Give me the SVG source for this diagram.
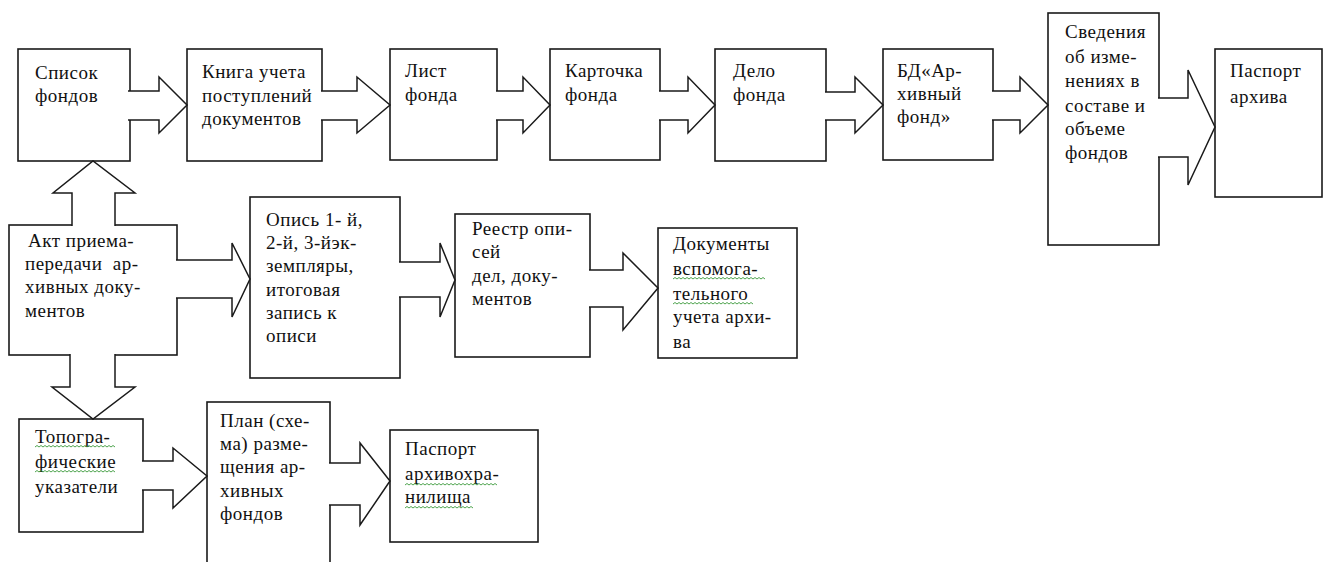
<svg xmlns="http://www.w3.org/2000/svg" width="1324" height="562" viewBox="0 0 1324 562">
<style>
.b{fill:#fff;stroke:#1a1a1a;stroke-width:1.6}
.a{fill:#fff;stroke:#1a1a1a;stroke-width:1.5;stroke-linejoin:miter}
.t{font-family:"Liberation Serif","Times New Roman",serif;font-size:19px;fill:#111;letter-spacing:0.5px}
.sq{fill:none;stroke:#3a9a3a;stroke-width:0.9}
</style>
<rect width="1324" height="562" fill="#fff"/>
<g id="n1"><rect class="b" x="18" y="49" width="112" height="112"/><text class="t"><tspan x="35" y="79">Список</tspan><tspan x="35" y="102">фондов</tspan></text></g>
<g id="n2"><rect class="b" x="187" y="49" width="135" height="112"/><text class="t"><tspan x="202" y="78">Книга учета</tspan><tspan x="202" y="102">поступлений</tspan><tspan x="202" y="125">документов</tspan></text></g>
<g id="n3"><rect class="b" x="390" y="49" width="107" height="111"/><text class="t"><tspan x="405" y="77">Лист</tspan><tspan x="405" y="101">фонда</tspan></text></g>
<g id="n4"><rect class="b" x="550" y="49" width="110" height="111"/><text class="t"><tspan x="565" y="77">Карточка</tspan><tspan x="565" y="101">фонда</tspan></text></g>
<g id="n5"><rect class="b" x="715" y="49" width="111" height="112"/><text class="t"><tspan x="733" y="77">Дело</tspan><tspan x="733" y="101">фонда</tspan></text></g>
<g id="n6"><rect class="b" x="883" y="49" width="110" height="111"/><text class="t"><tspan x="897" y="77">БД«Ар-</tspan><tspan x="897" y="100">хивный</tspan><tspan x="897" y="123">фонд»</tspan></text></g>
<g id="n7"><rect class="b" x="1048" y="13" width="111" height="232"/><text class="t"><tspan x="1065" y="38">Сведения</tspan><tspan x="1065" y="63">об изме-</tspan><tspan x="1065" y="87">нениях в</tspan><tspan x="1065" y="112">составе и</tspan><tspan x="1065" y="135">объеме</tspan><tspan x="1065" y="159">фондов</tspan></text></g>
<g id="n8"><rect class="b" x="1215" y="49" width="107" height="148"/><text class="t"><tspan x="1230" y="77">Паспорт</tspan><tspan x="1230" y="103">архива</tspan></text></g>
<g id="n9"><rect class="b" x="9" y="225" width="168" height="130"/><text class="t"><tspan x="28" y="247">Акт приема-</tspan><tspan x="25" y="270" xml:space="preserve">передачи  ар-</tspan><tspan x="25" y="293">хивных доку-</tspan><tspan x="25" y="317">ментов</tspan></text></g>
<g id="n10"><rect class="b" x="250" y="197" width="150" height="181"/><text class="t"><tspan x="266" y="226">Опись 1- й,</tspan><tspan x="266" y="249">2-й, 3-йэк-</tspan><tspan x="266" y="272">земпляры,</tspan><tspan x="266" y="296">итоговая</tspan><tspan x="266" y="319">запись к</tspan><tspan x="266" y="342">описи</tspan></text></g>
<g id="n11"><rect class="b" x="455" y="214" width="135" height="143"/><text class="t"><tspan x="472" y="235">Реестр опи-</tspan><tspan x="472" y="258">сей</tspan><tspan x="472" y="282">дел, доку-</tspan><tspan x="472" y="305">ментов</tspan></text></g>
<g id="n12"><rect class="b" x="658" y="228" width="139" height="130"/><text class="t"><tspan x="673" y="250">Документы</tspan><tspan x="673" y="275">вспомога-</tspan><tspan x="673" y="300">тельного</tspan><tspan x="673" y="323">учета архи-</tspan><tspan x="673" y="348">ва</tspan></text>
<path class="sq" d="M673,279 l2,-1.5 2,1.5 2,-1.5 2,1.5 2,-1.5 2,1.5 2,-1.5 2,1.5 2,-1.5 2,1.5 2,-1.5 2,1.5 2,-1.5 2,1.5 2,-1.5 2,1.5 2,-1.5 2,1.5 2,-1.5 2,1.5 2,-1.5 2,1.5 2,-1.5 2,1.5 2,-1.5 2,1.5 2,-1.5 2,1.5 2,-1.5 2,1.5 2,-1.5 2,1.5 2,-1.5 2,1.5 2,-1.5 2,1.5 2,-1.5 2,1.5 2,-1.5 2,1.5 2,-1.5 2,1.5 2,-1.5 2,1.5 2,-1.5 2,1.5"/>
<path class="sq" d="M673,304 l2,-1.5 2,1.5 2,-1.5 2,1.5 2,-1.5 2,1.5 2,-1.5 2,1.5 2,-1.5 2,1.5 2,-1.5 2,1.5 2,-1.5 2,1.5 2,-1.5 2,1.5 2,-1.5 2,1.5 2,-1.5 2,1.5 2,-1.5 2,1.5 2,-1.5 2,1.5 2,-1.5 2,1.5 2,-1.5 2,1.5 2,-1.5 2,1.5 2,-1.5 2,1.5 2,-1.5 2,1.5 2,-1.5 2,1.5 2,-1.5 2,1.5 2,-1.5 2,1.5"/></g>
<g id="n13"><rect class="b" x="19" y="419" width="124" height="113"/><text class="t"><tspan x="35" y="443">Топогра-</tspan><tspan x="35" y="468">фические</tspan><tspan x="35" y="493">указатели</tspan></text>
<path class="sq" d="M35,447 l2,-1.5 2,1.5 2,-1.5 2,1.5 2,-1.5 2,1.5 2,-1.5 2,1.5 2,-1.5 2,1.5 2,-1.5 2,1.5 2,-1.5 2,1.5 2,-1.5 2,1.5 2,-1.5 2,1.5 2,-1.5 2,1.5 2,-1.5 2,1.5 2,-1.5 2,1.5 2,-1.5 2,1.5 2,-1.5 2,1.5 2,-1.5 2,1.5 2,-1.5 2,1.5 2,-1.5 2,1.5 2,-1.5 2,1.5 2,-1.5 2,1.5 2,-1.5 2,1.5"/>
<path class="sq" d="M35,472 l2,-1.5 2,1.5 2,-1.5 2,1.5 2,-1.5 2,1.5 2,-1.5 2,1.5 2,-1.5 2,1.5 2,-1.5 2,1.5 2,-1.5 2,1.5 2,-1.5 2,1.5 2,-1.5 2,1.5 2,-1.5 2,1.5 2,-1.5 2,1.5 2,-1.5 2,1.5 2,-1.5 2,1.5 2,-1.5 2,1.5 2,-1.5 2,1.5 2,-1.5 2,1.5 2,-1.5 2,1.5 2,-1.5 2,1.5 2,-1.5 2,1.5 2,-1.5 2,1.5"/></g>
<g id="n14"><rect class="b" x="207" y="402" width="123" height="175"/><text class="t"><tspan x="220" y="427">План (схе-</tspan><tspan x="220" y="450">ма) разме-</tspan><tspan x="220" y="473">щения ар-</tspan><tspan x="220" y="497">хивных</tspan><tspan x="220" y="520">фондов</tspan></text></g>
<g id="n15"><rect class="b" x="390" y="430" width="148" height="112"/><text class="t"><tspan x="405" y="455">Паспорт</tspan><tspan x="405" y="480">архивохра-</tspan><tspan x="405" y="503">нилища</tspan></text>
<path class="sq" d="M405,485 l2,-1.5 2,1.5 2,-1.5 2,1.5 2,-1.5 2,1.5 2,-1.5 2,1.5 2,-1.5 2,1.5 2,-1.5 2,1.5 2,-1.5 2,1.5 2,-1.5 2,1.5 2,-1.5 2,1.5 2,-1.5 2,1.5 2,-1.5 2,1.5 2,-1.5 2,1.5 2,-1.5 2,1.5 2,-1.5 2,1.5 2,-1.5 2,1.5 2,-1.5 2,1.5 2,-1.5 2,1.5 2,-1.5 2,1.5 2,-1.5 2,1.5 2,-1.5 2,1.5 2,-1.5 2,1.5 2,-1.5 2,1.5 2,-1.5 2,1.5"/>
<path class="sq" d="M405,508 l2,-1.5 2,1.5 2,-1.5 2,1.5 2,-1.5 2,1.5 2,-1.5 2,1.5 2,-1.5 2,1.5 2,-1.5 2,1.5 2,-1.5 2,1.5 2,-1.5 2,1.5 2,-1.5 2,1.5 2,-1.5 2,1.5 2,-1.5 2,1.5 2,-1.5 2,1.5 2,-1.5 2,1.5 2,-1.5 2,1.5 2,-1.5 2,1.5 2,-1.5 2,1.5 2,-1.5 2,1.5"/></g>
<g id="connectors">
<path class="a" d="M128,91 H159 V77 L187,105 L159,133 V120 H128"/>
<path class="a" d="M321,91 H357 V77 L390,105 L357,133 V120 H321"/>
<path class="a" d="M496,91 H523 V77 L550,105 L523,133 V120 H496"/>
<path class="a" d="M659,91 H688 V77 L715,105 L688,133 V120 H659"/>
<path class="a" d="M825,92 H855 V77 L883,105 L855,133 V120 H825"/>
<path class="a" d="M992,91 H1020 V77 L1048,105 L1020,133 V120 H992"/>
<path class="a" d="M1158,98 H1188 V70 L1215,127 L1188,185 V157 H1158"/>
<path class="a" d="M72,226 V193 H53 L93,161 L135,193 H115 V226"/>
<path class="a" d="M70,354 V387 H52 L93,419 L135,387 H115 V354"/>
<path class="a" d="M176,260 H232 V243 L250,279 L232,317 V298 H176"/>
<path class="a" d="M399,262 H440 V243 L455,280 L440,317 V297 H399"/>
<path class="a" d="M589,270 H623 V253 L658,288 L623,330 V307 H589"/>
<path class="a" d="M142,461 H173 V448 L207,476 L173,508 V490 H142"/>
<path class="a" d="M329,463 H360 V443 L390,481 L360,525 V505 H329"/>
</g>
</svg>
